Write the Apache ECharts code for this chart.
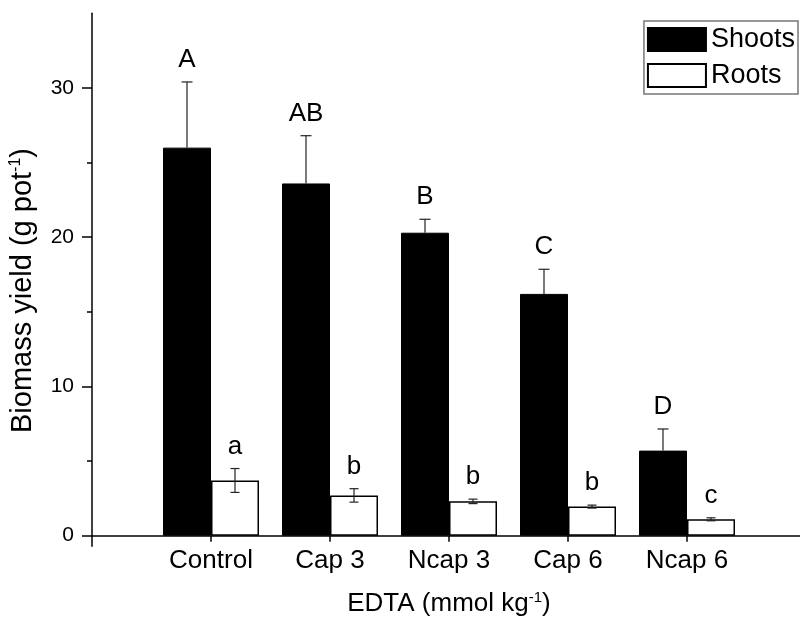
<!DOCTYPE html>
<html>
<head>
<meta charset="utf-8">
<script src="https://cdn.jsdelivr.net/npm/echarts@6/dist/echarts.min.js"></script>
<style>html,body{margin:0;padding:0;background:#fff}#c{width:800px;height:619px}</style>
</head>
<body>
<div id="c"></div>
<script>
var categories = ['Control', 'Cap 3', 'Ncap 3', 'Cap 6', 'Ncap 6'];
var shoots = [26.0, 23.6, 20.3, 16.2, 5.7];
var shootsErr = [4.4, 3.2, 0.9, 1.65, 1.45];
var roots = [3.7, 2.7, 2.3, 1.95, 1.1];
var rootsErr = [0.8, 0.45, 0.15, 0.1, 0.1];
var shootsLetters = ['A', 'AB', 'B', 'C', 'D'];
var rootsLetters = ['a', 'b', 'b', 'b', 'c'];
var yMajorTicks = [0, 10, 20, 30];
var yMinorTicks = [5, 15, 25];

var FONT = 'Liberation Sans, Arial, Helvetica, sans-serif';
var BAR_W = 48;

var axisCats = [''].concat(categories).concat(['']);
function pad(arr) { return ['-'].concat(arr).concat(['-']); }

function errData(vals, errs) {
  return vals.map(function (v, i) { return [i + 1, v, errs[i]]; });
}

function makeRender(offset, capW, both, letters) {
  return function (params, api) {
    var i = api.value(0), v = api.value(1), e = api.value(2);
    var letter = letters[params.dataIndex];
    var base = api.coord([i, v]);
    var top = api.coord([i, v + e]);
    var bot = api.coord([i, v - e]);
    var x = base[0] + offset;
    var st = { stroke: '#222', lineWidth: 1.2 };
    var children = [
      { type: 'line', shape: { x1: x, y1: both ? bot[1] : base[1], x2: x, y2: top[1] }, style: st },
      { type: 'line', shape: { x1: x - capW / 2, y1: top[1], x2: x + capW / 2, y2: top[1] }, style: st },
      { type: 'text', x: x, y: top[1] - 22,
        style: { text: letter, textAlign: 'center', textVerticalAlign: 'middle',
                 align: 'center', verticalAlign: 'middle',
                 font: '26px ' + FONT, fill: '#000' } }
    ];
    if (both) {
      children.push({ type: 'line', shape: { x1: x - capW / 2, y1: bot[1], x2: x + capW / 2, y2: bot[1] }, style: st });
    }
    return { type: 'group', children: children };
  };
}

var chart = echarts.init(document.getElementById('c'), null, { renderer: 'canvas' });
chart.setOption({
  animation: false,
  backgroundColor: '#fff',
  textStyle: { fontFamily: FONT },
  grid: { left: 92, width: 714, top: 13.3, bottom: 83.3, containLabel: false, outerBoundsMode: 'none' },
  legend: {
    data: [{ name: 'Shoots', icon: 'rect' }, { name: 'Roots', icon: 'rect' }],
    orient: 'vertical',
    right: 2, top: 21,
    itemWidth: 58, itemHeight: 23, itemGap: 9,
    padding: [5, 3, 5, 3],
    borderColor: '#777', borderWidth: 1.5,
    textStyle: { fontSize: 27, lineHeight: 23, color: '#000', fontFamily: FONT },
    selectedMode: false
  },
  xAxis: [{
    type: 'category',
    data: axisCats,
    boundaryGap: false,
    axisLine: { lineStyle: { color: '#000', width: 1.5 } },
    axisTick: { show: true, length: 6, lineStyle: { color: '#000', width: 1.5 } },
    axisLabel: { fontSize: 26, color: '#000', margin: 12, fontFamily: FONT, interval: 0 },
    splitLine: { show: false },
    name: 'EDTA (mmol kg{sup|-1})',
    nameLocation: 'middle',
    nameGap: 55,
    nameTextStyle: { fontSize: 26, color: '#000', fontFamily: FONT,
      rich: { sup: { fontSize: 15, verticalAlign: 'top', color: '#000', fontFamily: FONT } } }
  }, {
    type: 'value', min: 0, max: 6, position: 'bottom',
    axisLine: { show: false }, axisLabel: { show: false }, splitLine: { show: false },
    axisTick: { show: true, length: 11, customValues: [0], lineStyle: { color: '#000', width: 1.5 } }
  }],
  yAxis: [{
    type: 'value',
    min: 0, max: 35,
    axisLine: { show: true, lineStyle: { color: '#000', width: 1.5 } },
    axisTick: { show: true, length: 10, customValues: yMajorTicks, lineStyle: { color: '#000', width: 1.5 } },
    axisLabel: { fontSize: 21, color: '#000', margin: 18, customValues: yMajorTicks, fontFamily: FONT },
    splitLine: { show: false },
    name: 'Biomass yield (g pot{sup|-1})',
    nameLocation: 'middle',
    nameGap: 55,
    nameTextStyle: { fontSize: 29, color: '#000', fontFamily: FONT, padding: [0, 32, 0, 0],
      rich: { sup: { fontSize: 16, verticalAlign: 'top', color: '#000', fontFamily: FONT } } }
  }, {
    type: 'value', min: 0, max: 35, position: 'left', offset: 0,
    axisLine: { show: false }, axisLabel: { show: false }, splitLine: { show: false },
    axisTick: { show: true, length: 5, customValues: yMinorTicks, lineStyle: { color: '#000', width: 1.5 } }
  }],
  series: [{
    name: 'Shoots', type: 'bar', data: pad(shoots),
    barWidth: BAR_W, barGap: '0%',
    itemStyle: { color: '#000', borderColor: '#000', borderWidth: 1 }
  }, {
    name: 'Roots', type: 'bar', data: pad(roots),
    barWidth: BAR_W, barGap: '0%',
    itemStyle: { color: '#fff', borderColor: '#000', borderWidth: 1.5 }
  }, {
    name: 'ShootsErr', type: 'custom', data: errData(shoots, shootsErr),
    renderItem: makeRender(-BAR_W / 2, 11, false, shootsLetters), z: 5
  }, {
    name: 'RootsErr', type: 'custom', data: errData(roots, rootsErr),
    renderItem: makeRender(BAR_W / 2, 9, true, rootsLetters), z: 5
  }]
});
</script>
</body>
</html>
